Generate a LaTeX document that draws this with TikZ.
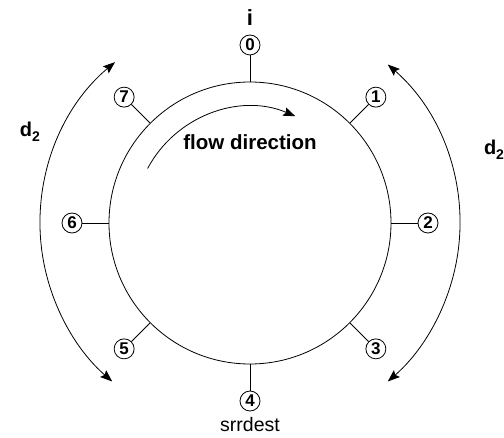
\documentclass[tikz,border=0pt]{standalone}
\usepackage{fontspec}
\setmainfont{Liberation Sans}
\usetikzlibrary{calc,arrows.meta}
\begin{document}
\begin{tikzpicture}[x=1pt, y=1pt, line width=0.8pt,
  >={Stealth[length=12pt,width=9pt,inset=2pt]},
  port/.style={circle, draw, minimum size=20pt, inner sep=0pt,
    font=\fontsize{17}{17}\selectfont\bfseries},
  dlabel/.style={font=\fontsize{20}{20}\selectfont\bfseries, inner sep=0pt}]
  \useasboundingbox (0,0) rectangle (504,437);
  \coordinate (C) at (250,214);

  % Ring
  \node[circle, draw, minimum size=282pt, inner sep=0pt] (ring) at (C) {};

  % Ports round the ring
  \foreach \k/\a in {0/90,1/45,2/0,3/-45,4/-90,5/-135,6/180,7/135} {
    \node[port] (n\k) at ($(C)+(\a:178)$) {\k};
    \draw (ring.\a) -- (n\k);
  }

  % Labels
  \node[font=\fontsize{22}{22}\selectfont\bfseries] (src) at (250,419) {i};
  \node[font=\fontsize{19.5}{19.5}\selectfont, inner sep=0pt] (dest) at (250,12) {srrdest};
  \node[font=\fontsize{20.5}{20.5}\selectfont\bfseries] (flow) at (250,295) {flow direction};

  % Flow arrow
  \draw[->] ($(C)+(152:116)$) arc[start angle=152, end angle=67, radius=116];

  % Distance arcs
  \draw[<->] ($(C)+(130:210)$) arc[start angle=130, end angle=229, radius=210];
  \draw[<->] ($(C)+(49:210)$) arc[start angle=49, end angle=-49, radius=210];
  \node[dlabel] (dl) at (30,305) {d\raisebox{-0.45ex}{\fontsize{14}{14}\selectfont 2}};
  \node[dlabel] (dr) at (494,287) {d\raisebox{-0.45ex}{\fontsize{14}{14}\selectfont 2}};
\end{tikzpicture}
\end{document}
